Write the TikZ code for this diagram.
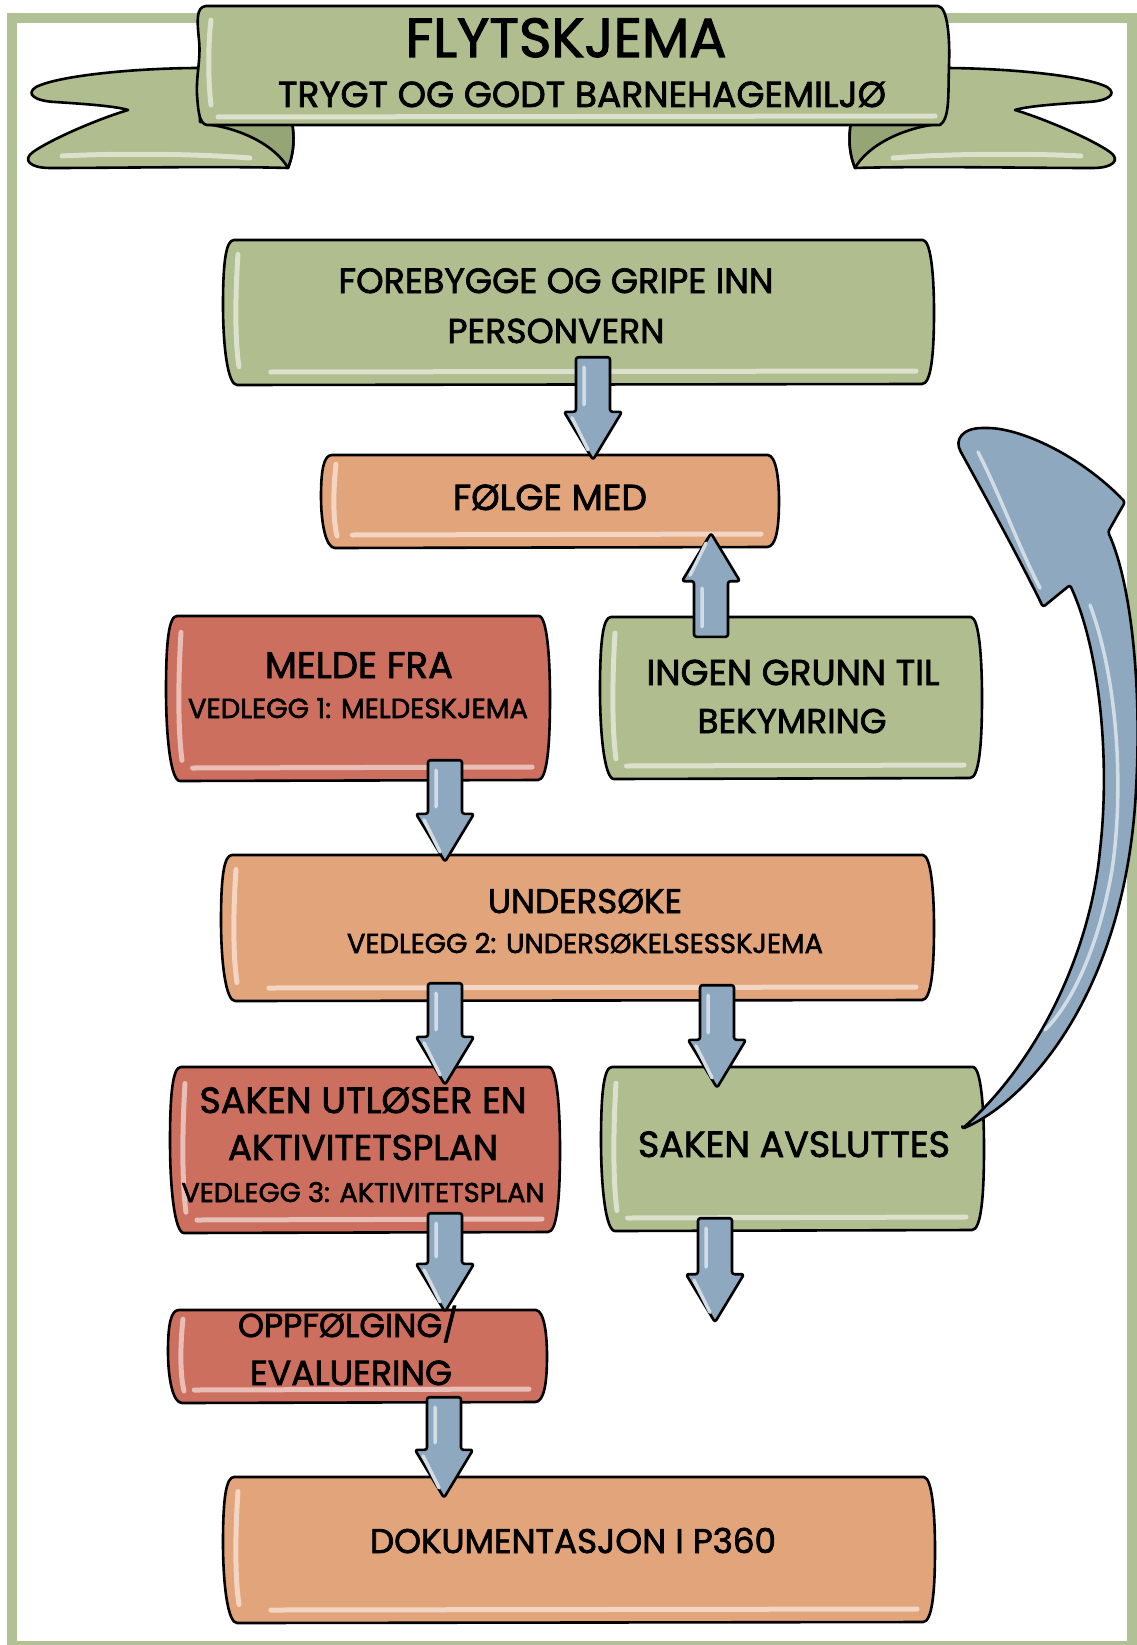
\documentclass[tikz,border=0pt]{standalone}
\usepackage{graphicx}
\usepackage{fontspec}
\newfontfamily\cf{Poppins}[FakeBold=2]
\usetikzlibrary{calc}
\definecolor{bgreen}{HTML}{AFBD8F}
\definecolor{fgreen}{HTML}{B2C095}
\definecolor{dgreen}{HTML}{96A576}
\definecolor{borange}{HTML}{E2A47A}
\definecolor{bred}{HTML}{CC6F5F}
\definecolor{ablue}{HTML}{8EA8BF}
\newcommand\tw[2]{\resizebox{#1pt}{!}{\cf #2}}
\newcommand\cbox[6]{%
 \node[inner sep=0pt,minimum width={(#4-#2)*1pt},minimum height={(#5-#3)*1pt}] (#1) at ({(#2+#4)/2},{(#3+#5)/2}) {};
 \filldraw[boxline,fill=#6] ({#2+9},#3) -- ({#4-7},#3)
  .. controls ({#4+1},{#3+1}) and ({#4+4},{#3+0.25*(#5-#3)}) .. ({#4+4},{#3+0.5*(#5-#3)})
  .. controls ({#4+4},{#3+0.8*(#5-#3)}) and ({#4+1},#5) .. ({#4-8},#5)
  -- ({#2+12},{#5+1})
  .. controls ({#2+3},{#5+1}) and ({#2-2},{#3+0.75*(#5-#3)}) .. ({#2-2},{#3+0.45*(#5-#3)})
  .. controls ({#2-2},{#3+0.15*(#5-#3)}) and ({#2+1},#3) .. ({#2+9},#3) -- cycle;
 \draw[hl,draw=#6!45!white] ({#2+13},{#3+0.1*(#5-#3)}) .. controls ({#2+10},{#3+0.4*(#5-#3)}) and ({#2+10},{#3+0.7*(#5-#3)}) .. ({#2+14},{#5-0.12*(#5-#3)});
 \draw[hl,draw=#6!45!white] ({#2+0.065*(#4-#2)},{#5-12}) -- ({#4-14},{#5-13});
}
\newcommand\barrow[2]{%
 \draw[arrowsty] let \p1=(#1), \p2=(#2), \n1={sign(\y2-(\y1))} in
  ({\x1-17pt},\y1) -- ({\x1+17pt},\y1) -- ({\x1+17pt},{\y2-(\n1)*48pt}) -- ({\x1+29pt},{\y2-(\n1)*48pt})
  -- (\x1,\y2) -- ({\x1-29pt},{\y2-(\n1)*48pt}) -- ({\x1-17pt},{\y2-(\n1)*48pt}) -- cycle;
 \draw[arrowhl] let \p1=(#1), \p2=(#2), \n1={sign(\y2-(\y1))} in
  ({\x1-9pt},{\y1+(\n1)*10pt}) -- ({\x1-9pt},{\y2-(\n1)*55pt})
  ({\x1-21pt},{\y2-(\n1)*42pt}) -- ({\x1-5pt},{\y2-(\n1)*10pt});
}
\newcommand\wingshape{%
 \filldraw[boxline,fill=bgreen] (200,68) .. controls (140,68) and (60,75) .. (36,87)
  .. controls (25,94) and (35,101) .. (55,102) .. controls (85,104) and (115,106) .. (128,110)
  .. controls (95,120) and (50,140) .. (33,152) .. controls (22,160) and (30,168) .. (50,168)
  .. controls (120,168) and (220,166) .. (288,168) .. controls (295,150) and (294,135) .. (292,122)
  -- (200,122) -- cycle;
 \filldraw[boxline,fill=dgreen] (205,124) .. controls (240,128) and (275,145) .. (288,168)
  .. controls (295,150) and (294,135) .. (292,122) -- cycle;
 \draw[hl,draw=bgreen!45!white] (62,156) .. controls (120,153) and (200,154) .. (250,158);
}
\begin{document}
\begin{tikzpicture}[x=1pt,y=-1pt,
 boxline/.style={draw=black,line width=2.6pt,line join=round},
 hl/.style={line width=5pt,line cap=round},
 arrowsty/.style={fill=ablue,draw=black,line width=2.6pt,line join=round,rounded corners=2.5pt},
 arrowhl/.style={draw=ablue!40!white,line width=3.5pt,line cap=round},
 txt/.style={anchor=base,inner sep=0pt}]
\useasboundingbox (0,0) rectangle (1136,1645);
\fill[white] (0,0) rectangle (1136,1645);
\draw[fgreen,line width=10pt] (12,18) rectangle (1132,1646);
% banner
\wingshape
\begin{scope}[xshift=1143pt,xscale=-1]\wingshape\end{scope}
\filldraw[boxline,fill=bgreen] (206,6) -- (938,6) .. controls (948,7) and (950,40) .. (949,65)
 .. controls (948,95) and (950,118) .. (940,125) -- (207,125)
 .. controls (198,124) and (198,105) .. (197,95) .. controls (196,75) and (201,60) .. (199,40)
 .. controls (197,20) and (196,7) .. (206,6) -- cycle;
\draw[hl,draw=bgreen!45!white] (211,20) .. controls (208,45) and (208,80) .. (211,105);
\draw[hl,draw=bgreen!45!white] (218,117) -- (935,116);
\node[txt] (title) at (566,57) {\tw{321}{FLYTSKJEMA}};
\node[txt] (sub) at (582,107) {\tw{608}{TRYGT OG GODT BARNEHAGEMILJØ}};
% boxes
\cbox{b1}{225}{240}{930}{384}{bgreen}
\cbox{b2}{323}{455}{775}{547}{borange}
\cbox{b3}{168}{616}{546}{780}{bred}
\cbox{b4}{602}{617}{978}{778}{bgreen}
\cbox{b5}{223}{855}{930}{1000}{borange}
\cbox{b6}{172}{1067}{556}{1232}{bred}
\cbox{b7}{603}{1067}{980}{1230}{bgreen}
\cbox{b8}{170}{1310}{543}{1402}{bred}
\cbox{b9}{225}{1477}{931}{1622}{borange}
% texts
\node[txt] (t1a) at (556,293) {\tw{435}{FOREBYGGE OG GRIPE INN}};
\node[txt] (t1b) at (556,343) {\tw{217}{PERSONVERN}};
\node[txt] (t2) at (550,510) {\tw{194}{FØLGE MED}};
\node[txt] (t3a) at (359,678) {\tw{188}{MELDE FRA}};
\node[txt] (t3b) at (358,718) {\tw{340}{VEDLEGG 1: MELDESKJEMA}};
\node[txt] (t4a) at (793,685) {\tw{293}{INGEN GRUNN TIL}};
\node[txt] (t4b) at (792,733) {\tw{189}{BEKYMRING}};
\node[txt] (t5a) at (585,913) {\tw{194}{UNDERSØKE}};
\node[txt] (t5b) at (585,953) {\tw{476}{VEDLEGG 2: UNDERSØKELSESSKJEMA}};
\node[txt] (t6a) at (363,1113) {\tw{327}{SAKEN UTLØSER EN}};
\node[txt] (t6b) at (363,1160) {\tw{270}{AKTIVITETSPLAN}};
\node[txt] (t6c) at (363,1202) {\tw{363}{VEDLEGG 3: AKTIVITETSPLAN}};
\node[txt] (t7) at (794,1157) {\tw{312}{SAKEN AVSLUTTES}};
\node[txt] (t8a) at (348,1337) {\tw{220}{OPPFØLGING/}};
\node[txt] (t8b) at (351,1385) {\tw{202}{EVALUERING}};
\node[txt] (t9) at (573,1553) {\tw{406}{DOKUMENTASJON I P360}};
% arrow end points
\coordinate (a1s) at ($(b1.south)+(15.5,-27)$);
\coordinate (a1t) at ($(b2.north)+(44,5)$);
\coordinate (a2s) at ($(b4.north)+(-79,20)$);
\coordinate (a2t) at ($(b2.south)+(162,-14)$);
\coordinate (a3s) at ($(b3.south)+(88,-20)$);
\coordinate (a3t) at ($(b5.north)+(-131.5,7)$);
\coordinate (a4s) at ($(b5.south)+(-131.5,-17)$);
\coordinate (a4t) at ($(b6.north)+(81,18)$);
\coordinate (a5s) at ($(b5.south)+(140.5,-15)$);
\coordinate (a5t) at ($(b7.north)+(-74.5,21)$);
\coordinate (a6s) at ($(b6.south)+(81,-19)$);
\coordinate (a6t) at ($(b8.north)+(88.5,2)$);
\coordinate (a7s) at ($(b8.south)+(87.5,-5)$);
\coordinate (a7t) at ($(b9.north)+(-134,21)$);
\coordinate (a8s) at ($(b7.south)+(-76.5,-12)$);
\coordinate (a8t) at ($(b7.south)+(-76.5,92)$);
\barrow{a1s}{a1t}
\barrow{a2s}{a2t}
\barrow{a3s}{a3t}
\barrow{a4s}{a4t}
\barrow{a5s}{a5t}
\barrow{a6s}{a6t}
\barrow{a7s}{a7t}
\barrow{a8s}{a8t}
% curved return arrow
\coordinate (ctail) at ($(b7.north east)+(-18,62)$);
\filldraw[arrowsty] (ctail) .. controls (1030,1100) and (1125,990) .. (1136,790)
 .. controls (1142,680) and (1130,580) .. (1108,532)
 -- (1125,502)
 .. controls (1080,455) and (1020,428) .. (985,428)
 .. controls (962,428) and (954,440) .. (962,454)
 .. controls (990,505) and (1020,560) .. (1043,607)
 -- (1070,585)
 .. controls (1100,650) and (1110,760) .. (1100,850)
 .. controls (1090,950) and (1040,1060) .. (ctail) -- cycle;
\draw[arrowhl] (1090,605) .. controls (1118,680) and (1124,790) .. (1112,870) .. controls (1100,940) and (1075,1000) .. (1045,1030);
\draw[arrowhl] (978,452) .. controls (1000,495) and (1020,550) .. (1040,588);
\end{tikzpicture}
\end{document}
